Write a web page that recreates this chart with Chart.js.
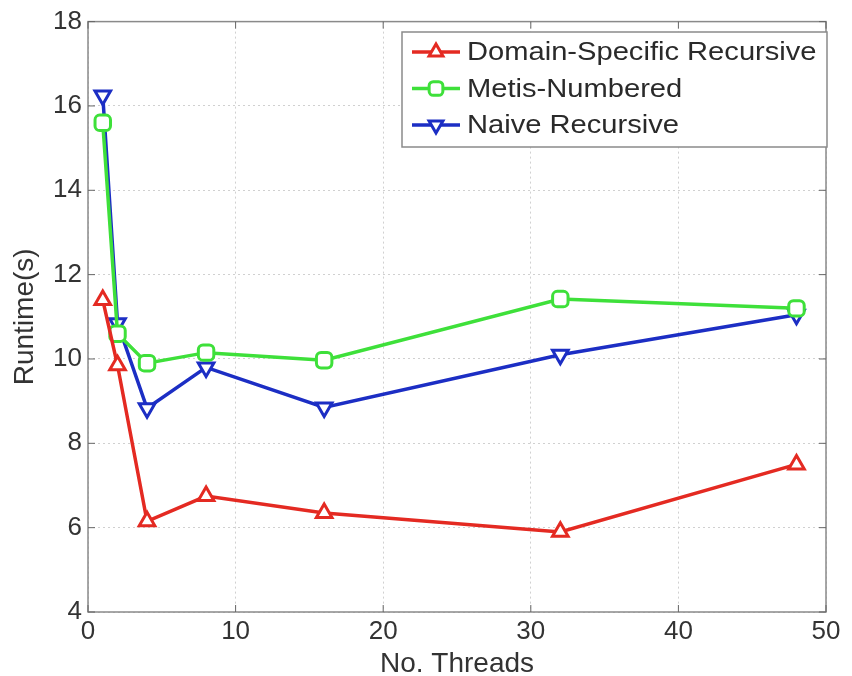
<!DOCTYPE html>
<html><head><meta charset="utf-8">
<script src="https://cdn.jsdelivr.net/npm/chart.js@4.4.1/dist/chart.umd.min.js"></script>
<style>html,body{margin:0;padding:0;background:#fff}#wrap{width:852px;height:676px}</style>
</head><body><div id="wrap"><canvas id="c" width="852" height="676"></canvas></div>
<script>
const threads = [1, 2, 4, 8, 16, 32, 48];
const domainSpecific = [11.4, 9.85, 6.15, 6.75, 6.35, 5.9, 7.5];
const metisNumbered = [15.6, 10.6, 9.9, 10.15, 9.97, 11.42, 11.2];
const naiveRecursive = [16.25, 10.85, 8.83, 9.8, 8.85, 10.1, 11.05];
const seriesNames = ['Domain-Specific Recursive', 'Metis-Numbered', 'Naive Recursive'];
const xTicks = [0, 10, 20, 30, 40, 50];
const yTicks = [4, 6, 8, 10, 12, 14, 16, 18];

const colors = ['#e42a22', '#3ee03a', '#1c2ec4'];
const styles = ['triangle', 'rectRounded', 'triangle'];
const rotations = [0, 0, 180];
const allVals = [domainSpecific, metisNumbered, naiveRecursive];

const datasets = allVals.map((vals, i) => ({
  label: seriesNames[i],
  data: threads.map((t, j) => ({x: t, y: vals[j]})),
  borderColor: colors[i],
  backgroundColor: '#ffffff',
  borderWidth: 3.5,
  pointStyle: styles[i],
  pointRotation: rotations[i],
  pointRadius: 9,
  pointBorderWidth: 3,
  tension: 0
}));

const fam = '"Liberation Sans", Arial, sans-serif';
const tickFont = {family: fam, size: 26};
const titleFont = {family: fam, size: 28};

const framePlugin = {
  id: 'frame',
  afterDraw(chart) {
    const {ctx, chartArea: a, scales: {x, y}} = chart;
    ctx.save();
    ctx.strokeStyle = '#8a8a8a';
    ctx.lineWidth = 1.5;
    ctx.strokeRect(a.left, a.top, a.right - a.left, a.bottom - a.top);
    ctx.strokeStyle = '#666';
    ctx.lineWidth = 1;
    xTicks.forEach(v => {
      const px = x.getPixelForValue(v);
      ctx.beginPath(); ctx.moveTo(px, a.bottom); ctx.lineTo(px, a.bottom - 7); ctx.stroke();
      ctx.beginPath(); ctx.moveTo(px, a.top); ctx.lineTo(px, a.top + 7); ctx.stroke();
    });
    yTicks.forEach(v => {
      const py = y.getPixelForValue(v);
      ctx.beginPath(); ctx.moveTo(a.left, py); ctx.lineTo(a.left + 7, py); ctx.stroke();
      ctx.beginPath(); ctx.moveTo(a.right, py); ctx.lineTo(a.right - 7, py); ctx.stroke();
    });
    // legend
    const lx = 402, ly = 32, lw = 425, lh = 115;
    ctx.fillStyle = '#fff';
    ctx.fillRect(lx, ly, lw, lh);
    ctx.strokeStyle = '#8a8a8a';
    ctx.lineWidth = 1.5;
    ctx.strokeRect(lx, ly, lw, lh);
    chart.data.datasets.forEach((ds, i) => {
      const cy = 52 + i * 36.5;
      ctx.strokeStyle = ds.borderColor;
      ctx.lineWidth = 3.5;
      ctx.beginPath(); ctx.moveTo(412, cy); ctx.lineTo(460, cy); ctx.stroke();
      ctx.fillStyle = '#fff';
      ctx.lineWidth = 3;
      Chart.helpers.drawPoint(ctx, {pointStyle: ds.pointStyle, rotation: ds.pointRotation, radius: 8, borderWidth: 3}, 436, cy);
      ctx.save();
      ctx.translate(467, cy + 1);
      ctx.scale(1.12, 1);
      ctx.font = '26px ' + fam;
      ctx.textBaseline = 'middle';
      ctx.textAlign = 'left';
      ctx.fillStyle = '#2a2a2a';
      ctx.fillText(ds.label, 0, 0);
      ctx.restore();
    });
    ctx.restore();
  }
};

new Chart(document.getElementById('c'), {
  type: 'line',
  data: {datasets},
  options: {
    responsive: false,
    animation: false,
    layout: {padding: {top: 20, right: 26, left: 0, bottom: 0}},
    plugins: {legend: {display: false}, tooltip: {enabled: false}},
    scales: {
      x: {
        type: 'linear', min: 0, max: 50,
        afterBuildTicks: s => { s.ticks = xTicks.map(v => ({value: v})); },
        afterFit: s => { s.height = 64; },
        grid: {color: '#d0d0d0', drawTicks: false},
        border: {display: false, dash: [2, 3]},
        ticks: {font: tickFont, color: '#333', padding: 4, maxRotation: 0},
        title: {display: true, text: 'No. Threads', font: titleFont, color: '#333', padding: {top: 0, bottom: -5}}
      },
      y: {
        type: 'linear', min: 4, max: 18,
        afterBuildTicks: s => { s.ticks = yTicks.map(v => ({value: v})); },
        afterFit: s => { s.width = 88; },
        grid: {color: '#d0d0d0', drawTicks: false},
        border: {display: false, dash: [2, 3]},
        ticks: {font: tickFont, color: '#333', padding: 6},
        title: {display: true, text: 'Runtime(s)', font: titleFont, color: '#333', padding: {top: 8, bottom: 0}}
      }
    }
  },
  plugins: [framePlugin]
});
</script></body></html>
